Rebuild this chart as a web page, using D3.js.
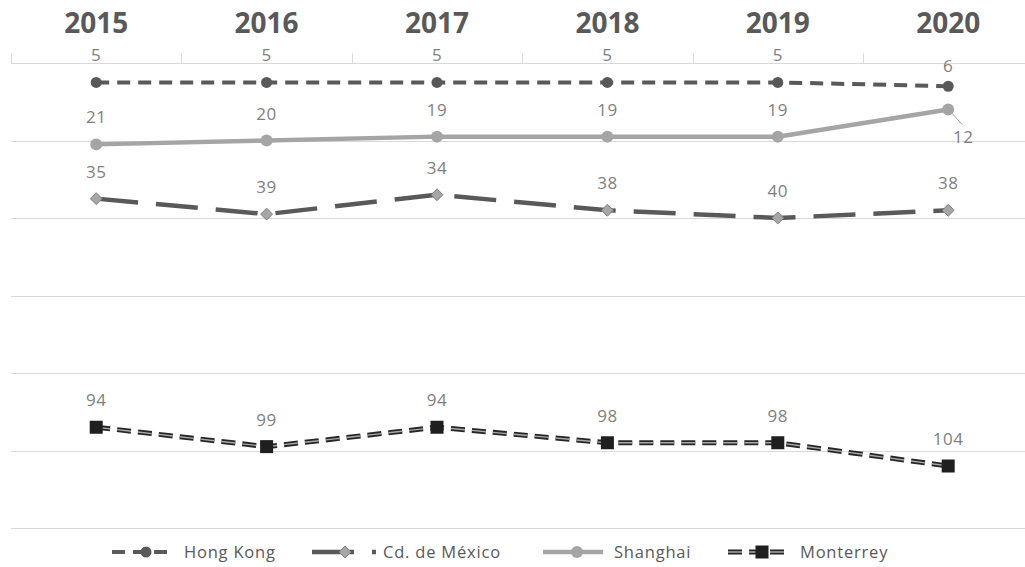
<!DOCTYPE html>
<html>
<head>
<meta charset="utf-8">
<script src="https://cdn.jsdelivr.net/npm/d3@7"></script>
<style>
  html, body { margin: 0; padding: 0; background: #fff; }
  svg { display: block; font-family: "Open Sans", "Noto Sans", sans-serif; }
</style>
</head>
<body>
<svg id="chart" width="1025" height="567"></svg>
<script>
// Ranking position per city and year (lower = better)
const years = ["2015", "2016", "2017", "2018", "2019", "2020"];
const hongKong = [5, 5, 5, 5, 5, 6];
const cdMexico = [35, 39, 34, 38, 40, 38];
const shanghai = [21, 20, 19, 19, 19, 12];
const monterrey = [94, 99, 94, 98, 98, 104];
const yTicks = [0, 20, 40, 60, 80, 100, 120];

const series = [
  { name: "Monterrey", values: monterrey, kind: "monterrey" },
  { name: "Cd. de México", values: cdMexico, kind: "mexico" },
  { name: "Shanghai", values: shanghai, kind: "shanghai" },
  { name: "Hong Kong", values: hongKong, kind: "hk" }
];

const W = 1025, H = 567;
const svg = d3.select("#chart");

const x = d3.scaleBand().domain(years).range([11, 11 + 6 * 170.4]);
const cx = d => x(d) + x.bandwidth() / 2;
const y = d3.scaleLinear().domain([0, 120]).range([63, 528]);

// horizontal gridlines
svg.append("g").selectAll("line").data(yTicks).join("line")
  .attr("x1", 11).attr("x2", W)
  .attr("y1", d => Math.round(y(d)) + 0.5).attr("y2", d => Math.round(y(d)) + 0.5)
  .attr("stroke", "#d9d9d9").attr("stroke-width", 1);

// top category axis: ticks between categories, bold year labels
const axis = d3.axisTop(x).tickSize(0).tickPadding(0);
const gAxis = svg.append("g").attr("transform", `translate(0,${Math.round(y(0)) + 0.5})`).call(axis);
gAxis.select(".domain").remove();
gAxis.selectAll("text")
  .attr("y", -31)
  .attr("font-size", 28).attr("font-weight", 700)
  .attr("fill", "#595959")
  .attr("font-family", "'Open Sans', sans-serif");
const boundaries = years.map(d => x(d)).concat([x(years[years.length - 1]) + x.bandwidth()]);
gAxis.selectAll("line.sep").data(boundaries.filter(b => b < W)).join("line")
  .attr("class", "sep")
  .attr("x1", d => Math.round(d) + 0.5).attr("x2", d => Math.round(d) + 0.5)
  .attr("y1", -10).attr("y2", 0)
  .attr("stroke", "#d9d9d9");

const line = d3.line().x((v, i) => cx(years[i])).y(v => y(v));

const styles = {
  hk: { color: "#595959", width: 4, dash: "13,8" },
  mexico: { color: "#595959", width: 4.5, dash: "42,18" },
  shanghai: { color: "#a5a5a5", width: 4.5, dash: null },
  monterrey: { color: "#262626", width: 5, dash: "14,7" }
};

function drawMarker(g, kind, px, py) {
  if (kind === "hk") {
    g.append("circle").attr("cx", px).attr("cy", py).attr("r", 5.5).attr("fill", "#595959");
  } else if (kind === "shanghai") {
    g.append("circle").attr("cx", px).attr("cy", py).attr("r", 6).attr("fill", "#a5a5a5");
  } else if (kind === "mexico") {
    g.append("path")
      .attr("d", d3.symbol().type(d3.symbolDiamond2).size(90)())
      .attr("transform", `translate(${px},${py})`)
      .attr("fill", "#a6a6a6").attr("stroke", "#7f7f7f").attr("stroke-width", 1);
  } else {
    g.append("rect").attr("x", px - 6.5).attr("y", py - 6.5).attr("width", 13).attr("height", 13)
      .attr("fill", "#1f1f1f");
  }
}

function drawStroke(g, kind, d) {
  const s = styles[kind];
  const p = g.append("path").attr("d", d).attr("fill", "none")
    .attr("stroke", s.color).attr("stroke-width", s.width);
  if (s.dash) p.attr("stroke-dasharray", s.dash);
  if (kind === "monterrey") {
    // lighter core inside the dark dashes
    g.append("path").attr("d", d).attr("fill", "none")
      .attr("stroke", "#a8a8a8").attr("stroke-width", 1.4)
      .attr("stroke-dasharray", s.dash);
  }
}

// series lines and markers
series.forEach(s => {
  const g = svg.append("g");
  drawStroke(g, s.kind, line(s.values));
  s.values.forEach((v, i) => drawMarker(g, s.kind, cx(years[i]), y(v)));
});

// data labels
const labelTweaks = {
  "Hong Kong|2020": { dy: -20 },
  "Shanghai|2020": { dx: 15, dy: 27, leader: true }
};
const gLabels = svg.append("g")
  .attr("font-size", 17).attr("fill", "#7f7f7f").attr("text-anchor", "middle")
  .attr("letter-spacing", 0.5);
series.forEach(s => {
  s.values.forEach((v, i) => {
    const t = labelTweaks[s.name + "|" + years[i]] || {};
    const px = cx(years[i]), py = y(v);
    const lx = px + (t.dx || 0), ly = py + (t.dy !== undefined ? t.dy : -27);
    if (t.leader) {
      gLabels.append("line")
        .attr("x1", px + 3).attr("y1", py + 3).attr("x2", lx - 1).attr("y2", ly - 15 + 3)
        .attr("stroke", "#a6a6a6").attr("stroke-width", 1);
    }
    gLabels.append("text").attr("x", lx).attr("y", ly + 6).text(v);
  });
});

// legend
const legendItems = [
  { name: "Hong Kong", kind: "hk", x0: 112 },
  { name: "Cd. de México", kind: "mexico", x0: 312 },
  { name: "Shanghai", kind: "shanghai", x0: 543 },
  { name: "Monterrey", kind: "monterrey", x0: 728 }
];
const legY = 552;
const gLeg = svg.append("g");
legendItems.forEach(it => {
  const g = gLeg.append("g");
  const len = it.kind === "mexico" ? 64 : 60;
  drawStroke(g, it.kind, `M${it.x0},${legY}H${it.x0 + len}`);
  drawMarker(g, it.kind, it.x0 + (it.kind === "mexico" ? 33 : 34), legY);
  g.append("text")
    .attr("x", it.x0 + (it.kind === "mexico" ? 71 : it.kind === "shanghai" ? 71 : 72))
    .attr("y", legY + 6)
    .attr("font-size", 16.5).attr("letter-spacing", 0.8)
    .attr("fill", "#595959")
    .text(it.name);
});
</script>
</body>
</html>
